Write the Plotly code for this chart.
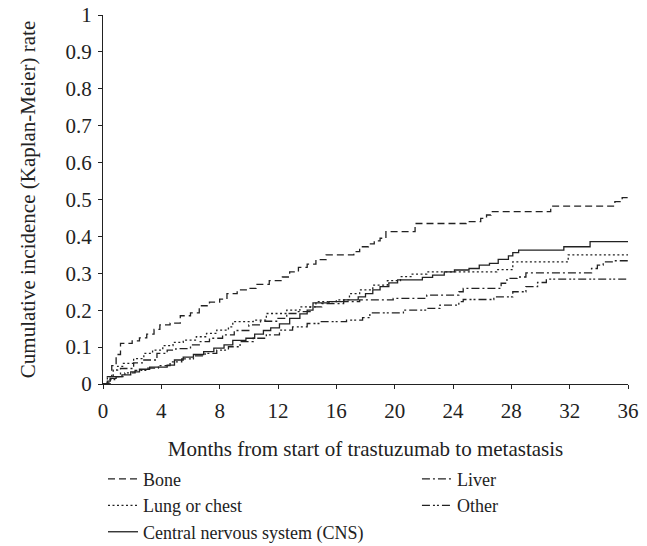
import plotly.graph_objects as go

# ---- data ----
bone_x = [0, 0.3, 0.6, 0.9, 1.2, 2.0, 2.5, 3.0, 3.5, 3.9, 4.6, 5.3, 6.0, 6.6, 7.3, 8.0, 8.5, 9.2, 9.9, 10.5,
          11.4, 12.3, 12.8, 13.4, 14.0, 14.6, 15.3, 17.2, 17.6, 18.2, 18.6, 19.0, 19.4, 21.4, 24.9, 25.9,
          26.3, 26.6, 30.7, 35.1, 35.6, 36]
bone_y = [0, 0.02, 0.05, 0.08, 0.11, 0.117, 0.125, 0.135, 0.148, 0.16, 0.165, 0.185, 0.193, 0.212, 0.222,
          0.23, 0.245, 0.255, 0.259, 0.27, 0.28, 0.29, 0.304, 0.316, 0.325, 0.337, 0.35, 0.359, 0.372, 0.38,
          0.388, 0.395, 0.413, 0.435, 0.44, 0.449, 0.458, 0.467, 0.482, 0.494, 0.505, 0.505]

liver_x = [0, 0.5, 1.2, 2.1, 2.8, 3.7, 4.4, 5.0, 6.0, 6.6, 7.3, 8.2, 9.0, 10.0, 10.8, 12.0, 12.6, 13.3, 14.2,
           15.0, 16.5, 17.6, 19.9, 22.2, 24.4, 24.7, 27.3, 27.7, 28.4, 29.0, 33.5, 33.9, 34.3, 35.0, 36]
liver_y = [0, 0.02, 0.042, 0.057, 0.065, 0.083, 0.092, 0.096, 0.106, 0.115, 0.124, 0.133, 0.145, 0.16, 0.17,
           0.178, 0.191, 0.196, 0.209, 0.218, 0.223, 0.228, 0.232, 0.241, 0.25, 0.259, 0.273, 0.286, 0.29,
           0.301, 0.313, 0.322, 0.331, 0.334, 0.334]

lung_x = [0, 0.3, 0.7, 1.0, 1.4, 2.1, 2.8, 3.4, 4.1, 4.8, 5.5, 6.4, 7.1, 7.8, 8.6, 8.9, 10.3, 11.2, 12.6,
          13.5, 14.6, 16.0, 16.9, 17.6, 18.5, 19.5, 20.4, 21.2, 22.2, 27.0, 28.1, 31.9, 36]
lung_y = [0, 0.02, 0.038, 0.048, 0.056, 0.069, 0.083, 0.092, 0.104, 0.113, 0.119, 0.128, 0.137, 0.146,
          0.155, 0.169, 0.173, 0.191, 0.2, 0.209, 0.223, 0.228, 0.245, 0.255, 0.268, 0.28, 0.291, 0.298,
          0.304, 0.31, 0.331, 0.35, 0.35]

other_x = [0, 0.4, 0.8, 1.5, 2.2, 3.0, 3.8, 4.6, 5.4, 6.2, 7.0, 7.8, 8.6, 9.4, 10.3, 11.2, 12.1, 13.0, 14.0,
           14.9, 16.7, 17.8, 18.3, 20.6, 22.2, 23.1, 24.4, 24.7, 26.8, 28.1, 29.0, 29.8, 30.4, 36]
other_y = [0, 0.012, 0.02, 0.03, 0.037, 0.043, 0.05, 0.06, 0.068, 0.076, 0.083, 0.092, 0.101, 0.115, 0.124,
           0.133, 0.146, 0.155, 0.164, 0.169, 0.173, 0.18, 0.193, 0.2, 0.205, 0.214, 0.223, 0.229, 0.236,
           0.25, 0.264, 0.275, 0.284, 0.284]

cns_x = [0, 0.3, 0.5, 0.9, 1.3, 1.9, 2.5, 3.2, 4.4, 4.9, 5.5, 6.2, 6.9, 7.6, 8.3, 8.9, 9.8, 10.4, 11.0, 11.5,
         12.1, 12.8, 13.5, 14.0, 14.4, 15.5, 16.5, 17.5, 18.0, 18.5, 19.0, 19.6, 20.2, 21.9, 22.6, 23.4, 24.1,
         25.1, 25.8, 26.5, 27.1, 27.8, 28.1, 28.5, 31.6, 33.4, 36]
cns_y = [0, 0.008, 0.015, 0.02, 0.025, 0.033, 0.04, 0.046, 0.051, 0.065, 0.073, 0.08, 0.088, 0.097, 0.106,
         0.118, 0.124, 0.135, 0.145, 0.152, 0.163, 0.178, 0.19, 0.2, 0.22, 0.223, 0.228, 0.236, 0.245, 0.255,
         0.264, 0.274, 0.282, 0.289, 0.295, 0.304, 0.309, 0.313, 0.322, 0.327, 0.338, 0.347, 0.356, 0.363,
         0.372, 0.386, 0.386]

x_ticks = [0, 4, 8, 12, 16, 20, 24, 28, 32, 36]
x_title = "Months from start of trastuzumab to metastasis"
y_title = "Cumulative incidence (Kaplan-Meier) rate"

# name, x, y, dash pattern, legend column
series = [
    ("Bone", bone_x, bone_y, "7px,4px", "legend"),
    ("Lung or chest", lung_x, lung_y, "2px,2.5px", "legend"),
    ("Central nervous system (CNS)", cns_x, cns_y, "solid", "legend"),
    ("Liver", liver_x, liver_y, "8px,3px,2px,3px", "legend2"),
    ("Other", other_x, other_y, "8px,3px,2px,2px,2px,3px", "legend2"),
]

FONT = "Liberation Serif, Times New Roman, serif"
INK = "#222222"

fig = go.Figure()
for name, xs, ys, dash, leg in series:
    fig.add_trace(go.Scatter(
        x=xs, y=ys, name=name, mode="lines", legend=leg,
        line=dict(color=INK, width=1.3, dash=dash, shape="hv"),
    ))

legend_common = dict(
    orientation="v", yanchor="top", xanchor="left", y=-0.208,
    font=dict(family=FONT, size=18, color=INK),
    bgcolor="rgba(0,0,0,0)", traceorder="normal", borderwidth=0,
)

# the page body adds an 8px offset, so the figure is 8px smaller than the window
fig.update_layout(
    width=639, height=538,
    margin=dict(l=95, r=19, t=7, b=162, autoexpand=False),
    paper_bgcolor="white", plot_bgcolor="white",
    font=dict(family=FONT, size=21, color=INK),
    showlegend=True,
    legend=dict(x=0.0, **legend_common),
    legend2=dict(x=0.598, **legend_common),
)
fig.update_xaxes(
    range=[0, 36], tickvals=x_ticks, ticktext=[str(v) for v in x_ticks],
    showline=True, linecolor=INK, linewidth=1.2, showgrid=False, zeroline=False,
    ticks="outside", ticklen=4, tickcolor=INK, ticklabelstandoff=4,
    ticklabeloverflow="allow",
    title=dict(text=x_title, standoff=19, font=dict(size=21)),
    tickfont=dict(size=21), automargin=False,
)
fig.update_yaxes(
    range=[0, 1], dtick=0.1, tick0=0,
    showline=True, linecolor=INK, linewidth=1.2, showgrid=False, zeroline=False,
    ticks="outside", ticklen=4, tickcolor=INK, ticklabelstandoff=2,
    ticklabeloverflow="allow",
    title=dict(text=y_title, standoff=24, font=dict(size=21)),
    tickfont=dict(size=21), automargin=False,
)

fig.write_html("out.html")
